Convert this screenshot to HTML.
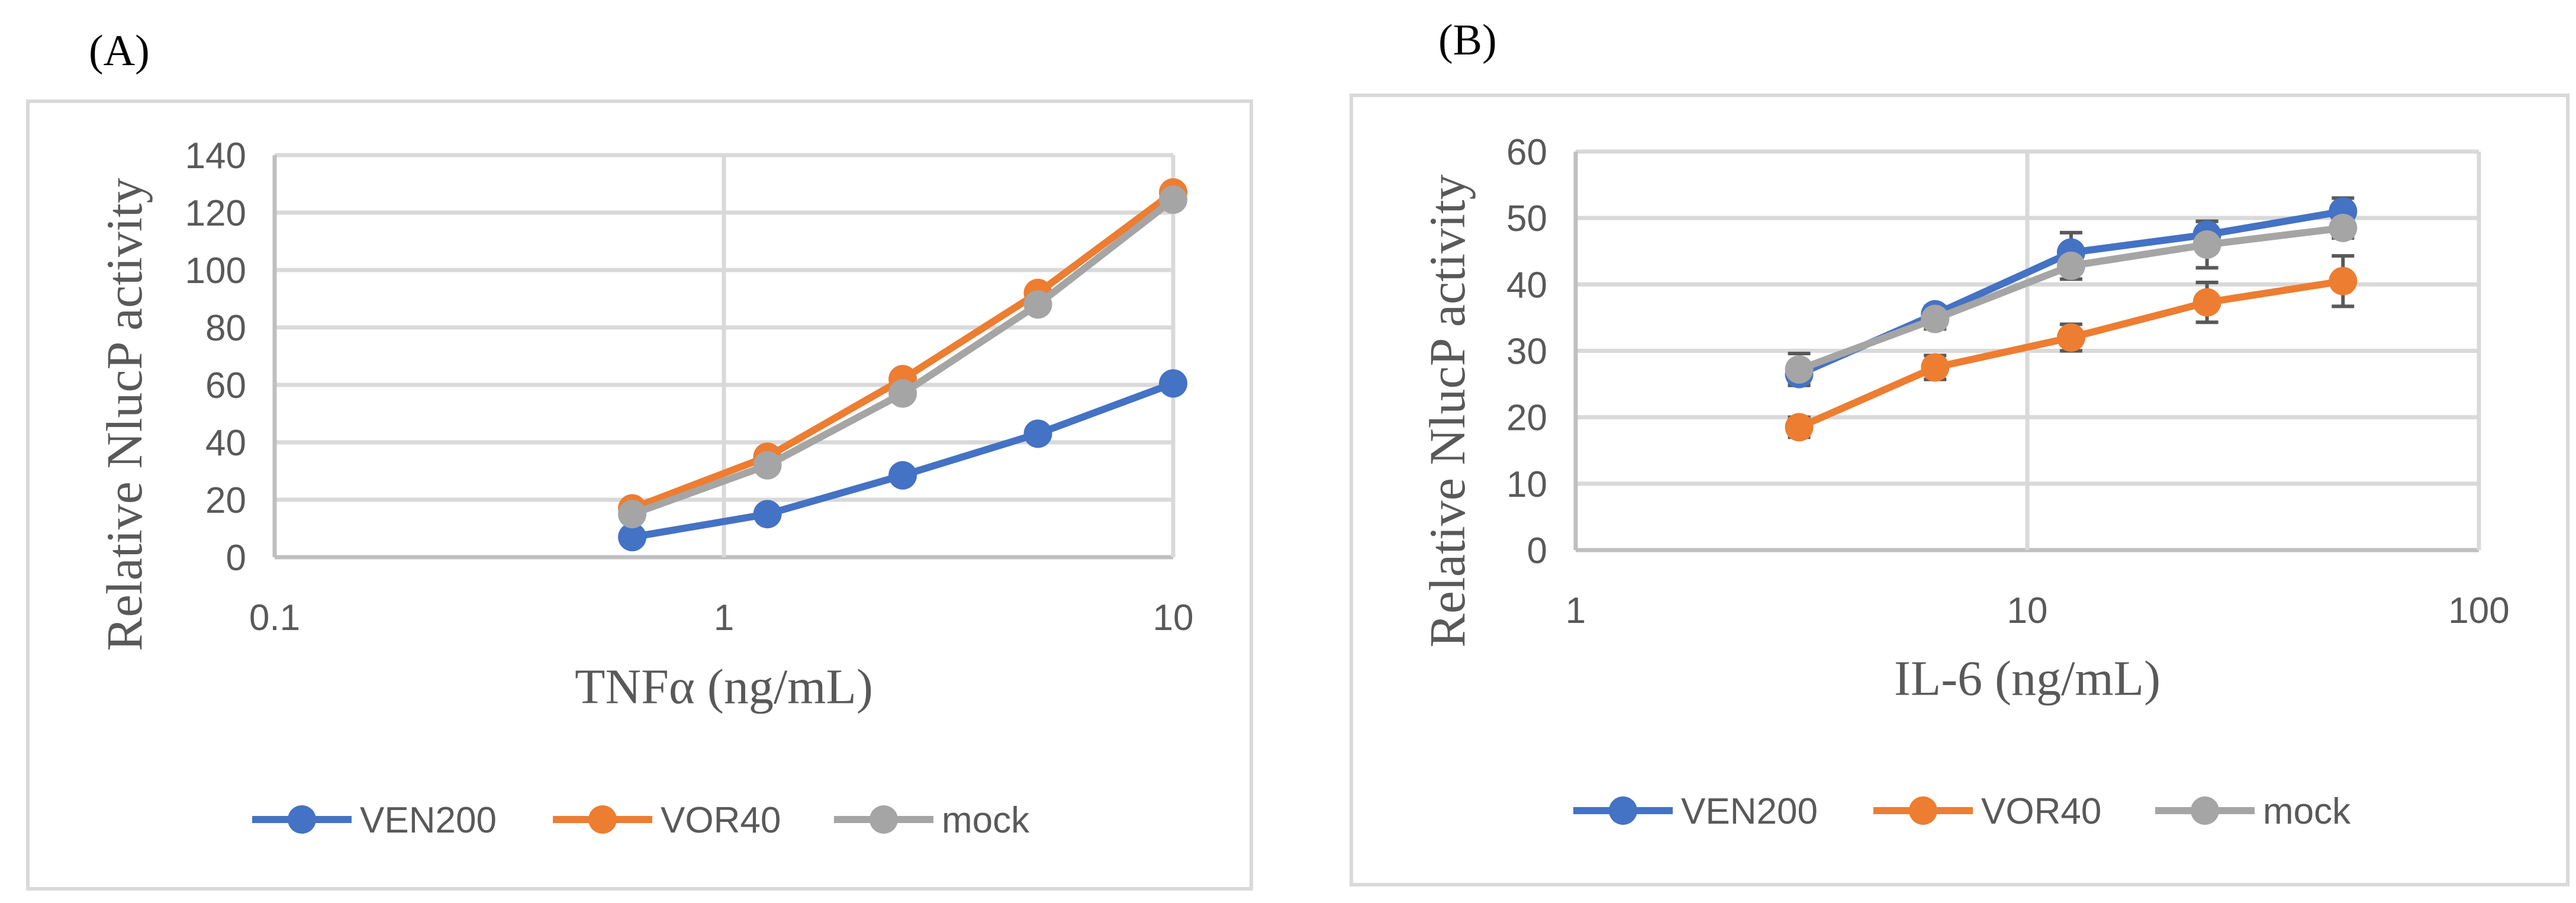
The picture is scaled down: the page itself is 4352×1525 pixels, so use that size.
<!DOCTYPE html>
<html><head><meta charset="utf-8"><style>
html,body{margin:0;padding:0;background:#fff;}
svg{display:block;}
</style></head><body>
<svg id="fig" width="4352" height="1525" viewBox="0 0 4352 1525" xmlns="http://www.w3.org/2000/svg">
<rect x="0" y="0" width="4352" height="1525" fill="#fff"/>
<text x="150" y="110" font-family="Liberation Serif, serif" font-size="74" fill="#000">(A)</text>
<text x="2430" y="92" font-family="Liberation Serif, serif" font-size="74" fill="#000">(B)</text>
<rect x="47" y="171" width="2067" height="1330" fill="#fff" stroke="#d9d9d9" stroke-width="6"/>
<rect x="2283" y="161" width="2055" height="1333" fill="#fff" stroke="#d9d9d9" stroke-width="6"/>
<g id="chartA"></g>
<g id="chartB"></g>
</svg>
<script>
// Panel A data
const xA = [0.625, 1.25, 2.5, 5, 10];
const venA = [7, 15, 28.5, 43, 60.5];
const vorA = [17, 35, 62, 92, 127];
const mockA = [15, 32, 57, 88, 124.5];
const yTicksA = [0, 20, 40, 60, 80, 100, 120, 140];
const xTicksA = [0.1, 1, 10];
// Panel B data
const xB = [3.125, 6.25, 12.5, 25, 50];
const venB = [26.5, 35.5, 44.8, 47.5, 51];
const vorB = [18.5, 27.5, 32, 37.3, 40.5];
const mockB = [27.2, 34.8, 42.8, 46, 48.5];
const venBErr = [1.5, 1.2, 3, 2, 2];
const vorBErr = [1.5, 1.8, 2, 3, 3.8];
const mockBErr = [2.4, 1.5, 2, 3.5, 1.5];
const yTicksB = [0, 10, 20, 30, 40, 50, 60];
const xTicksB = [1, 10, 100];
const seriesNames = ['VEN200', 'VOR40', 'mock'];
const colors = ['#4472c4', '#ed7d31', '#a5a5a5'];

const NS = 'http://www.w3.org/2000/svg';
function mk(parent, tag, attrs, text) {
  const e = document.createElementNS(NS, tag);
  for (const k in attrs) e.setAttribute(k, attrs[k]);
  if (text !== undefined) e.textContent = text;
  parent.appendChild(e);
  return e;
}

function drawChart(g, cfg) {
  const {left, right, top, bottom, xmin, xmax, ymax, xTicks, yTicks, series, errs, xTitle, ytCx, ytCy, xtCy, legY, legX, pfx} = cfg;
  const sx = v => left + (Math.log10(v) - Math.log10(xmin)) / (Math.log10(xmax) - Math.log10(xmin)) * (right - left);
  const sy = v => bottom - v / ymax * (bottom - top);
  // gridlines
  yTicks.forEach(t => {
    const l = mk(g, 'line', {x1: left, x2: right, y1: sy(t), y2: sy(t), stroke: t === 0 ? '#bfbfbf' : '#d9d9d9', 'stroke-width': 7});
    
    
    const tx = mk(g, 'text', {x: left - 48, y: sy(t) + 22, 'text-anchor': 'end', 'font-family': 'Liberation Sans, sans-serif', 'font-size': 62, fill: '#595959'}, String(t));
    
    
  });
  xTicks.forEach((t, i) => {
    const x = sx(t);
    if (i > 0) {
      const l = mk(g, 'line', {x1: x, x2: x, y1: top, y2: bottom, stroke: '#d9d9d9', 'stroke-width': 7});
      
      
    }
    const tx = mk(g, 'text', {x: x, y: bottom + 123, 'text-anchor': 'middle', 'font-family': 'Liberation Sans, sans-serif', 'font-size': 62, fill: '#595959'}, String(t));
    
    
  });
  const ax = mk(g, 'line', {x1: left, x2: left, y1: top, y2: bottom, stroke: '#bfbfbf', 'stroke-width': 7});
  
  
  // error bars
  if (errs) {
    series.forEach((s, si) => {
      s.vals.forEach((v, i) => {
        const e = errs[si][i];
        const x = sx(s.xs[i]);
        const eg = mk(g, 'g', {stroke: '#595959', 'stroke-width': 6});
        
        
        mk(eg, 'line', {x1: x, x2: x, y1: sy(v - e), y2: sy(v + e)});
        mk(eg, 'line', {x1: x - 19, x2: x + 19, y1: sy(v - e), y2: sy(v - e)});
        mk(eg, 'line', {x1: x - 19, x2: x + 19, y1: sy(v + e), y2: sy(v + e)});
      });
    });
  }
  // series
  series.forEach((s, si) => {
    const pts = s.vals.map((v, i) => sx(s.xs[i]) + ',' + sy(v)).join(' ');
    const pl = mk(g, 'polyline', {points: pts, fill: 'none', stroke: colors[si], 'stroke-width': 12, 'stroke-linejoin': 'round'});
    
    
    s.vals.forEach((v, i) => {
      const c = mk(g, 'circle', {cx: sx(s.xs[i]), cy: sy(v), r: 24, fill: colors[si]});
      
      
    });
  });
  // titles
  const yt = mk(g, 'text', {x: ytCx, y: ytCy, transform: 'rotate(-90 ' + ytCx + ' ' + ytCy + ')', 'text-anchor': 'middle', 'dominant-baseline': 'central', 'font-family': 'Liberation Serif, serif', 'font-size': 86, fill: '#595959'}, 'Relative NlucP activity');
  
  
  const xt = mk(g, 'text', {x: (left + right) / 2, y: xtCy, 'text-anchor': 'middle', 'dominant-baseline': 'central', 'font-family': 'Liberation Serif, serif', 'font-size': 84, fill: '#595959'}, xTitle);
  
  
  // legend
  seriesNames.forEach((n, i) => {
    const lg = mk(g, 'g', {});
    
    
    const x0 = legX[i];
    mk(lg, 'line', {x1: x0, x2: x0 + 168, y1: legY, y2: legY, stroke: colors[i], 'stroke-width': 12});
    mk(lg, 'circle', {cx: x0 + 84, cy: legY, r: 24, fill: colors[i]});
    mk(lg, 'text', {x: x0 + 182, y: legY + 22, 'font-family': 'Liberation Sans, sans-serif', 'font-size': 62, fill: '#595959'}, n);
  });
}

drawChart(document.getElementById('chartA'), {
  left: 464, right: 1982, top: 262, bottom: 941, xmin: 0.1, xmax: 10, ymax: 140,
  xTicks: xTicksA, yTicks: yTicksA,
  series: [{xs: xA, vals: venA}, {xs: xA, vals: vorA}, {xs: xA, vals: mockA}],
  errs: null, xTitle: 'TNFα (ng/mL)', ytCx: 210, ytCy: 700, xtCy: 1160, legY: 1384,
  legX: [426, 934, 1409], pfx: 'a'
});
drawChart(document.getElementById('chartB'), {
  left: 2662, right: 4188, top: 256, bottom: 929, xmin: 1, xmax: 100, ymax: 60,
  xTicks: xTicksB, yTicks: yTicksB,
  series: [{xs: xB, vals: venB}, {xs: xB, vals: vorB}, {xs: xB, vals: mockB}],
  errs: [venBErr, vorBErr, mockBErr], xTitle: 'IL-6 (ng/mL)', ytCx: 2445, ytCy: 694, xtCy: 1146, legY: 1369,
  legX: [2658, 3165, 3641], pfx: 'b'
});
</script>
</body></html>
